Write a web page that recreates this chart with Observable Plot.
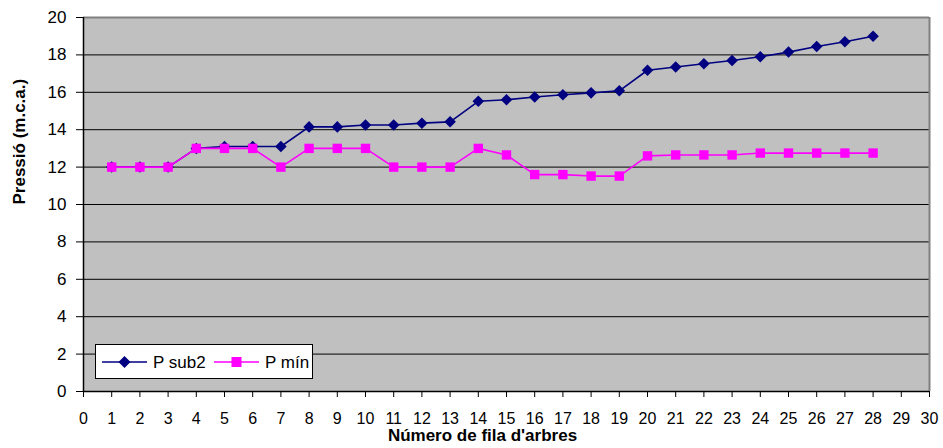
<!DOCTYPE html>
<html>
<head>
<meta charset="utf-8">
<script src="https://cdn.jsdelivr.net/npm/d3@7"></script>
<script src="https://cdn.jsdelivr.net/npm/@observablehq/plot@0.6"></script>
<style>
  html, body { margin: 0; padding: 0; background: #ffffff; }
  #wrap { position: relative; width: 943px; height: 448px; font-family: "Liberation Sans", Arial, sans-serif; }
  #legend { position: absolute; left: 95px; top: 344px; width: 216px; height: 33px; background: #fff; border: 1px solid #000; }
</style>
</head>
<body>
<div id="wrap"></div>
<script>
const rows = d3.range(1, 29);
const psub2 = [12, 12, 12, 13.0, 13.1, 13.1, 13.1, 14.15, 14.15, 14.25, 14.25, 14.35, 14.42, 15.52, 15.6, 15.75, 15.87, 15.97, 16.08, 17.18, 17.35, 17.53, 17.7, 17.9, 18.15, 18.45, 18.7, 19.0];
const pmin = [12, 12, 12, 13, 13, 13, 12, 13, 13, 13, 12, 12, 12, 13, 12.65, 11.6, 11.6, 11.52, 11.52, 12.6, 12.65, 12.65, 12.65, 12.75, 12.75, 12.75, 12.75, 12.75];
const seriesNames = ["P sub2", "P mín"];
const seriesColors = ["#000080", "#FF00FF"];
const xTicks = d3.range(0, 31);
const yTicks = d3.range(0, 21, 2);
const gridTicks = d3.range(2, 20, 2);
const xLabel = "Número de fila d'arbres";
const yLabel = "Pressió (m.c.a.)";

const dSub = rows.map((r, i) => ({row: r, value: psub2[i]}));
const dMin = rows.map((r, i) => ({row: r, value: pmin[i]}));

const chart = Plot.plot({
  width: 943,
  height: 448,
  marginLeft: 83,
  marginRight: 14,
  marginTop: 17,
  marginBottom: 57,
  style: {fontFamily: "'Liberation Sans', Arial, sans-serif", background: "transparent", color: "#000"},
  x: {domain: [0, 30]},
  y: {domain: [0, 20]},
  marks: [
    Plot.frame({fill: "#c0c0c0", stroke: "none"}),
    Plot.ruleY(gridTicks, {stroke: "#000", strokeWidth: 1}),
    Plot.ruleY([20], {stroke: "#808080", strokeWidth: 2}),
    Plot.ruleX([30], {stroke: "#808080", strokeWidth: 2}),
    Plot.ruleX([0], {stroke: "#000", strokeWidth: 1.5}),
    Plot.ruleY([0], {stroke: "#000", strokeWidth: 1.5}),
    Plot.axisY({ticks: yTicks, tickSize: 7, tickPadding: 10, fontSize: 17, label: null, stroke: "#000"}),
    Plot.axisX({ticks: xTicks, tickSize: 6, tickPadding: 15, fontSize: 16, label: null, tickFormat: d => String(d)}),
    Plot.line(dSub, {x: "row", y: "value", stroke: seriesColors[0], strokeWidth: 1.6}),
    Plot.dot(dSub, {x: "row", y: "value", symbol: "diamond2", r: 5.2, fill: seriesColors[0], stroke: "none"}),
    Plot.line(dMin, {x: "row", y: "value", stroke: seriesColors[1], strokeWidth: 1.6}),
    Plot.dot(dMin, {x: "row", y: "value", symbol: "square", r: 5.3, fill: seriesColors[1], stroke: "none"}),
    Plot.text([xLabel], {frameAnchor: "bottom", dy: 49, dx: -24, fontWeight: "bold", fontSize: 17, fill: "#000"}),
    Plot.text([yLabel], {frameAnchor: "left", rotate: -90, dx: -64, fontWeight: "bold", fontSize: 17, fill: "#000"})
  ]
});

const wrap = document.getElementById("wrap");
wrap.appendChild(chart);

// Legend
const legend = document.createElement("div");
legend.id = "legend";
const ns = "http://www.w3.org/2000/svg";
const lsvg = document.createElementNS(ns, "svg");
lsvg.setAttribute("width", 216);
lsvg.setAttribute("height", 33);
const items = [
  {x0: 6, tx: 57, sym: "diamond"},
  {x0: 118, tx: 169, sym: "square"}
];
items.forEach((it, i) => {
  const line = document.createElementNS(ns, "line");
  line.setAttribute("x1", it.x0); line.setAttribute("x2", it.x0 + 45);
  line.setAttribute("y1", 17); line.setAttribute("y2", 17);
  line.setAttribute("stroke", seriesColors[i]); line.setAttribute("stroke-width", 1.6);
  lsvg.appendChild(line);
  const cx = it.x0 + 22.5, cy = 17;
  let m;
  if (it.sym === "diamond") {
    m = document.createElementNS(ns, "path");
    m.setAttribute("d", `M${cx},${cy-6}L${cx+6},${cy}L${cx},${cy+6}L${cx-6},${cy}Z`);
  } else {
    m = document.createElementNS(ns, "rect");
    m.setAttribute("x", cx - 5); m.setAttribute("y", cy - 5);
    m.setAttribute("width", 10); m.setAttribute("height", 10);
  }
  m.setAttribute("fill", seriesColors[i]);
  lsvg.appendChild(m);
  const t = document.createElementNS(ns, "text");
  t.setAttribute("x", it.tx); t.setAttribute("y", 23);
  t.setAttribute("font-size", 17);
  t.setAttribute("font-family", "'Liberation Sans', Arial, sans-serif");
  t.setAttribute("fill", "#000");
  t.textContent = seriesNames[i];
  lsvg.appendChild(t);
});
legend.appendChild(lsvg);
wrap.appendChild(legend);
</script>
</body>
</html>
